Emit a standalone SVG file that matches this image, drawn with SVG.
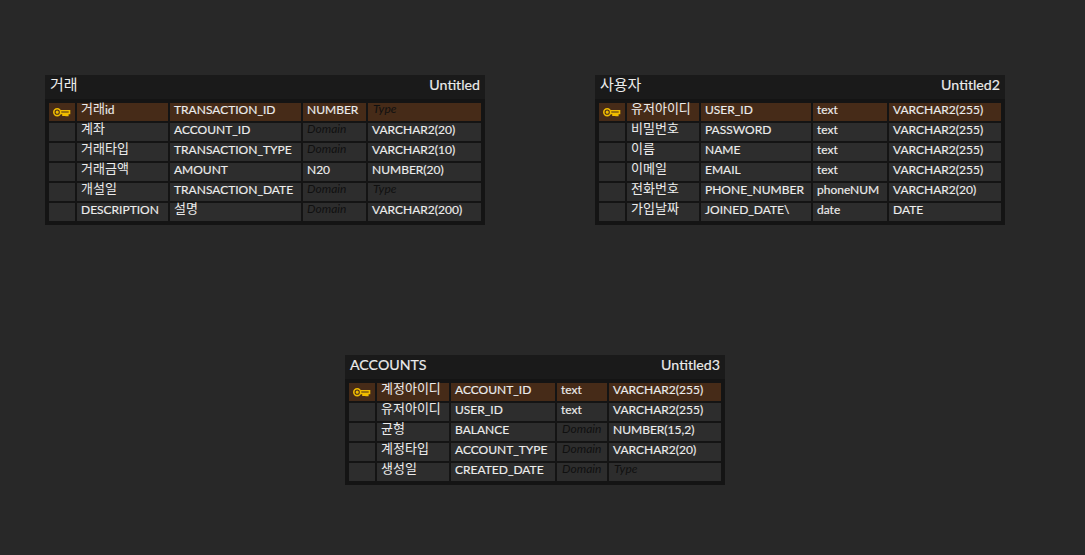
<svg xmlns="http://www.w3.org/2000/svg" width="1085" height="555" viewBox="0 0 1085 555">
<style>
.bg{fill:#282828}.tb{fill:#141414}.hd{fill:#1a1a1a}.c{fill:#2d2d2d}.p{fill:#462b18}
text{font-family:"Lato","Noto Sans CJK KR",sans-serif;font-size:12px;fill:#ececec;stroke:#ececec;stroke-width:.15}
.t{font-size:14.2px}.e{text-anchor:end}
.g{font-style:italic;fill:#101010;stroke:none}
.k{font-family:"Noto Sans CJK KR","Lato",sans-serif;font-size:13px;stroke:none}
.t.k{font-size:15px}
.l{font-family:"Lato",sans-serif;font-size:12px;stroke:#ececec}
.key{fill:none;stroke:#f0bc00;stroke-width:1.6}
</style>
<defs>
<g id="key"><circle cx="4.2" cy="4.200" r="3.400" class="key"/><circle cx="4.2" cy="4.200" r=".8" class="key"/><path class="key" d="M7.600 2.800H16.500V5.400H14.800V7.400H13.200V5.400H11.600V7.200H10V5.400H7.600"/></g>
</defs>
<rect class="bg" width="1085" height="555"/>
<g id="connectors"/>

<g id="table-transaction">
<rect class="tb" x="45" y="75" width="440" height="150"/>
<rect class="hd" x="45" y="75" width="440" height="24"/>
<text class="t k" x="50" y="90">거래</text><text class="t e" x="480" y="90">Untitled</text>
<g>
<rect class="p" x="49" y="103" width="26" height="18"/><rect class="p" x="77" y="103" width="91" height="18"/><rect class="p" x="170" y="103" width="131" height="18"/><rect class="p" x="303" y="103" width="63" height="18"/><rect class="p" x="368" y="103" width="113" height="18"/>
<rect class="c" x="49" y="123" width="26" height="18"/><rect class="c" x="77" y="123" width="91" height="18"/><rect class="c" x="170" y="123" width="131" height="18"/><rect class="c" x="303" y="123" width="63" height="18"/><rect class="c" x="368" y="123" width="113" height="18"/>
<rect class="c" x="49" y="143" width="26" height="18"/><rect class="c" x="77" y="143" width="91" height="18"/><rect class="c" x="170" y="143" width="131" height="18"/><rect class="c" x="303" y="143" width="63" height="18"/><rect class="c" x="368" y="143" width="113" height="18"/>
<rect class="c" x="49" y="163" width="26" height="18"/><rect class="c" x="77" y="163" width="91" height="18"/><rect class="c" x="170" y="163" width="131" height="18"/><rect class="c" x="303" y="163" width="63" height="18"/><rect class="c" x="368" y="163" width="113" height="18"/>
<rect class="c" x="49" y="183" width="26" height="18"/><rect class="c" x="77" y="183" width="91" height="18"/><rect class="c" x="170" y="183" width="131" height="18"/><rect class="c" x="303" y="183" width="63" height="18"/><rect class="c" x="368" y="183" width="113" height="18"/>
<rect class="c" x="49" y="203" width="26" height="18"/><rect class="c" x="77" y="203" width="91" height="18"/><rect class="c" x="170" y="203" width="131" height="18"/><rect class="c" x="303" y="203" width="63" height="18"/><rect class="c" x="368" y="203" width="113" height="18"/>
</g>
<use href="#key" x="53" y="108"/>
<text class="k" x="81" y="113">거래<tspan class="l" y="114">id</tspan></text><text x="174" y="114">TRANSACTION_ID</text><text x="307" y="114">NUMBER</text><text class="g" x="373" y="113">Type</text>
<text class="k" x="81" y="133">계좌</text><text x="174" y="134">ACCOUNT_ID</text><text class="g" x="307" y="133">Domain</text><text x="372" y="134">VARCHAR2(20)</text>
<text class="k" x="81" y="153">거래타입</text><text x="174" y="154">TRANSACTION_TYPE</text><text class="g" x="307" y="153">Domain</text><text x="372" y="154">VARCHAR2(10)</text>
<text class="k" x="81" y="173">거래금액</text><text x="174" y="174">AMOUNT</text><text x="307" y="174">N20</text><text x="372" y="174">NUMBER(20)</text>
<text class="k" x="81" y="193">개설일</text><text x="174" y="194">TRANSACTION_DATE</text><text class="g" x="307" y="193">Domain</text><text class="g" x="373" y="193">Type</text>
<text x="81" y="214">DESCRIPTION</text><text class="k" x="174" y="213">설명</text><text class="g" x="307" y="213">Domain</text><text x="372" y="214">VARCHAR2(200)</text>
</g>

<g id="table-user">
<rect class="tb" x="595" y="75" width="410" height="150"/>
<rect class="hd" x="595" y="75" width="410" height="24"/>
<text class="t k" x="600" y="90">사용자</text><text class="t e" x="1000" y="90">Untitled2</text>
<g>
<rect class="p" x="599" y="103" width="26" height="18"/><rect class="p" x="627" y="103" width="72" height="18"/><rect class="p" x="701" y="103" width="110" height="18"/><rect class="p" x="813" y="103" width="74" height="18"/><rect class="p" x="889" y="103" width="112" height="18"/>
<rect class="c" x="599" y="123" width="26" height="18"/><rect class="c" x="627" y="123" width="72" height="18"/><rect class="c" x="701" y="123" width="110" height="18"/><rect class="c" x="813" y="123" width="74" height="18"/><rect class="c" x="889" y="123" width="112" height="18"/>
<rect class="c" x="599" y="143" width="26" height="18"/><rect class="c" x="627" y="143" width="72" height="18"/><rect class="c" x="701" y="143" width="110" height="18"/><rect class="c" x="813" y="143" width="74" height="18"/><rect class="c" x="889" y="143" width="112" height="18"/>
<rect class="c" x="599" y="163" width="26" height="18"/><rect class="c" x="627" y="163" width="72" height="18"/><rect class="c" x="701" y="163" width="110" height="18"/><rect class="c" x="813" y="163" width="74" height="18"/><rect class="c" x="889" y="163" width="112" height="18"/>
<rect class="c" x="599" y="183" width="26" height="18"/><rect class="c" x="627" y="183" width="72" height="18"/><rect class="c" x="701" y="183" width="110" height="18"/><rect class="c" x="813" y="183" width="74" height="18"/><rect class="c" x="889" y="183" width="112" height="18"/>
<rect class="c" x="599" y="203" width="26" height="18"/><rect class="c" x="627" y="203" width="72" height="18"/><rect class="c" x="701" y="203" width="110" height="18"/><rect class="c" x="813" y="203" width="74" height="18"/><rect class="c" x="889" y="203" width="112" height="18"/>
</g>
<use href="#key" x="603" y="108"/>
<text class="k" x="631" y="113">유저아이디</text><text x="705" y="114">USER_ID</text><text x="817" y="114">text</text><text x="893" y="114">VARCHAR2(255)</text>
<text class="k" x="631" y="133">비밀번호</text><text x="705" y="134">PASSWORD</text><text x="817" y="134">text</text><text x="893" y="134">VARCHAR2(255)</text>
<text class="k" x="631" y="153">이름</text><text x="705" y="154">NAME</text><text x="817" y="154">text</text><text x="893" y="154">VARCHAR2(255)</text>
<text class="k" x="631" y="173">이메일</text><text x="705" y="174">EMAIL</text><text x="817" y="174">text</text><text x="893" y="174">VARCHAR2(255)</text>
<text class="k" x="631" y="193">전화번호</text><text x="705" y="194">PHONE_NUMBER</text><text x="817" y="194">phoneNUM</text><text x="893" y="194">VARCHAR2(20)</text>
<text class="k" x="631" y="213">가입날짜</text><text x="705" y="214">JOINED_DATE\</text><text x="817" y="214">date</text><text x="893" y="214">DATE</text>
</g>

<g id="table-accounts">
<rect class="tb" x="345" y="355" width="380" height="130"/>
<rect class="hd" x="345" y="355" width="380" height="24"/>
<text class="t" x="350" y="370">ACCOUNTS</text><text class="t e" x="720" y="370">Untitled3</text>
<g>
<rect class="p" x="349" y="383" width="26" height="18"/><rect class="p" x="377" y="383" width="72" height="18"/><rect class="p" x="451" y="383" width="104" height="18"/><rect class="p" x="557" y="383" width="50" height="18"/><rect class="p" x="609" y="383" width="112" height="18"/>
<rect class="c" x="349" y="403" width="26" height="18"/><rect class="c" x="377" y="403" width="72" height="18"/><rect class="c" x="451" y="403" width="104" height="18"/><rect class="c" x="557" y="403" width="50" height="18"/><rect class="c" x="609" y="403" width="112" height="18"/>
<rect class="c" x="349" y="423" width="26" height="18"/><rect class="c" x="377" y="423" width="72" height="18"/><rect class="c" x="451" y="423" width="104" height="18"/><rect class="c" x="557" y="423" width="50" height="18"/><rect class="c" x="609" y="423" width="112" height="18"/>
<rect class="c" x="349" y="443" width="26" height="18"/><rect class="c" x="377" y="443" width="72" height="18"/><rect class="c" x="451" y="443" width="104" height="18"/><rect class="c" x="557" y="443" width="50" height="18"/><rect class="c" x="609" y="443" width="112" height="18"/>
<rect class="c" x="349" y="463" width="26" height="18"/><rect class="c" x="377" y="463" width="72" height="18"/><rect class="c" x="451" y="463" width="104" height="18"/><rect class="c" x="557" y="463" width="50" height="18"/><rect class="c" x="609" y="463" width="112" height="18"/>
</g>
<use href="#key" x="353" y="388"/>
<text class="k" x="381" y="393">계정아이디</text><text x="455" y="394">ACCOUNT_ID</text><text x="561" y="394">text</text><text x="613" y="394">VARCHAR2(255)</text>
<text class="k" x="381" y="413">유저아이디</text><text x="455" y="414">USER_ID</text><text x="561" y="414">text</text><text x="613" y="414">VARCHAR2(255)</text>
<text class="k" x="381" y="433">균형</text><text x="455" y="434">BALANCE</text><text class="g" x="562" y="433">Domain</text><text x="613" y="434">NUMBER(15,2)</text>
<text class="k" x="381" y="453">계정타입</text><text x="455" y="454">ACCOUNT_TYPE</text><text class="g" x="562" y="453">Domain</text><text x="613" y="454">VARCHAR2(20)</text>
<text class="k" x="381" y="473">생성일</text><text x="455" y="474">CREATED_DATE</text><text class="g" x="562" y="473">Domain</text><text class="g" x="614" y="473">Type</text>
</g>
</svg>
